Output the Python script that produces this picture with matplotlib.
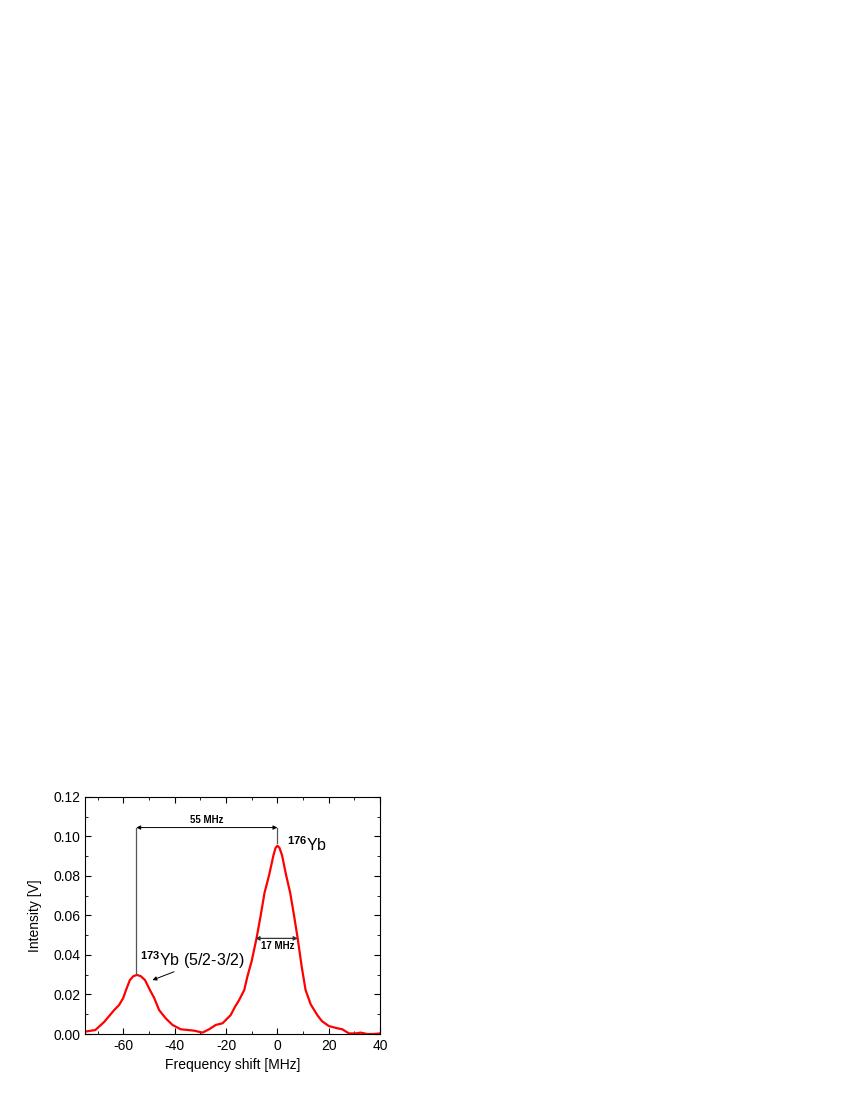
#!/usr/bin/env python3
import matplotlib
matplotlib.use('Agg')
import matplotlib.pyplot as plt
from matplotlib.ticker import MultipleLocator

plt.rcParams['font.family'] = ['Liberation Sans', 'DejaVu Sans']
plt.rcParams['mathtext.fontset'] = 'custom'
plt.rcParams['mathtext.rm'] = 'Liberation Sans'
plt.rcParams['mathtext.it'] = 'Liberation Sans'
plt.rcParams['mathtext.bf'] = 'Liberation Sans:bold'
plt.rcParams['axes.unicode_minus'] = False

freq = [-75, -71, -67.6, -63.7, -61.7, -60.1, -59, -57.5, -56.2, -54.8, -53.3,
        -51.6, -49.7, -48, -46.1, -43.5, -40.9, -37.7, -32.5, -29.2, -26.6,
        -24, -21.4, -18.2, -16.5, -14.9, -12.9, -11.7, -10, -8.1, -6.5, -5.0,
        -3.2, -1.5, -0.7, 0, 0.8, 1.8, 3.4, 5.0, 6.5, 7.9, 9.5, 11.0, 13.0,
        15.6, 17.4, 20.1, 23.4, 25.3, 27.9, 30.5, 32.5, 35, 37.7, 40]
intensity = [0.0012, 0.002, 0.006, 0.012, 0.0147, 0.0182, 0.0223, 0.0273, 0.0292,
             0.0299, 0.0293, 0.0273, 0.0223, 0.0182, 0.0121, 0.0079, 0.0046,
             0.0024, 0.0017, 0.0007, 0.0024, 0.0046, 0.0054, 0.0096, 0.0138,
             0.0172, 0.0223, 0.029, 0.037, 0.0486, 0.060, 0.0715, 0.0805,
             0.0906, 0.0942, 0.0953, 0.0943, 0.0906, 0.0805, 0.0715, 0.060,
             0.0486, 0.034, 0.0223, 0.015, 0.0095, 0.0065, 0.004, 0.0029,
             0.0024, 0.0003, 0.0003, 0.0007, 0.0, 0.0, 0.0003]

peak_173 = -55
peak_176 = 0
marker_top = 0.1045
fwhm_left, fwhm_right, fwhm_level = -8.6, 8.0, 0.0484

fig = plt.figure(figsize=(8.5, 11), dpi=100)
ax = fig.add_axes([0.1, 0.06, 0.347, 0.2155])

ax.plot(freq, intensity, '-', color='#ff0000', lw=1.6, solid_joinstyle='round')

# peak markers
ax.plot([peak_173, peak_173], [0.0305, marker_top], color='#555555', lw=0.9)
ax.plot([peak_176, peak_176], [0.0965, marker_top], color='#555555', lw=0.9)
ax.annotate('', xy=(peak_176, marker_top), xytext=(peak_173, marker_top),
            arrowprops=dict(arrowstyle='<|-|>', color='black', lw=0.7,
                            mutation_scale=6, shrinkA=0, shrinkB=0))
ax.text((peak_173 + peak_176) / 2, marker_top + 0.0015, '55 MHz',
        ha='center', va='bottom', fontsize=7, fontweight='bold')

# FWHM
ax.annotate('', xy=(fwhm_right, fwhm_level), xytext=(fwhm_left, fwhm_level),
            arrowprops=dict(arrowstyle='<|-|>', color='#333333', lw=0.9,
                            mutation_scale=6, shrinkA=0, shrinkB=0))
ax.text(0, fwhm_level - 0.0015, '17 MHz', ha='center', va='top',
        fontsize=7, fontweight='bold')

# labels
ax.text(3.8, 0.0912, r'$^{\mathbf{176}}$Yb', fontsize=11.5, ha='left', va='bottom')
ax.text(-53.5, 0.0318, r'$^{\mathbf{173}}$Yb (5/2-3/2)', fontsize=11.5,
        ha='left', va='bottom')
ax.annotate('', xy=(-48.7, 0.0273), xytext=(-40.3, 0.0315),
            arrowprops=dict(arrowstyle='-|>', color='black', lw=0.7,
                            mutation_scale=6, shrinkA=0, shrinkB=0))

ax.set_xlim(-75, 40)
ax.set_ylim(0, 0.12)
ax.xaxis.set_major_locator(MultipleLocator(20))
ax.xaxis.set_minor_locator(MultipleLocator(10))
ax.yaxis.set_major_locator(MultipleLocator(0.02))
ax.yaxis.set_minor_locator(MultipleLocator(0.01))
ax.yaxis.set_major_formatter(plt.FuncFormatter(lambda v, p: '%.2f' % v))
ax.tick_params(which='both', direction='in', top=True, right=True, labelsize=10)
ax.tick_params(which='major', length=4)
ax.tick_params(which='minor', length=2)
ax.set_xlabel('Frequency shift [MHz]', fontsize=10)
ax.set_ylabel('Intensity [V]', fontsize=10, labelpad=8)

plt.savefig('out.png', dpi=100)
